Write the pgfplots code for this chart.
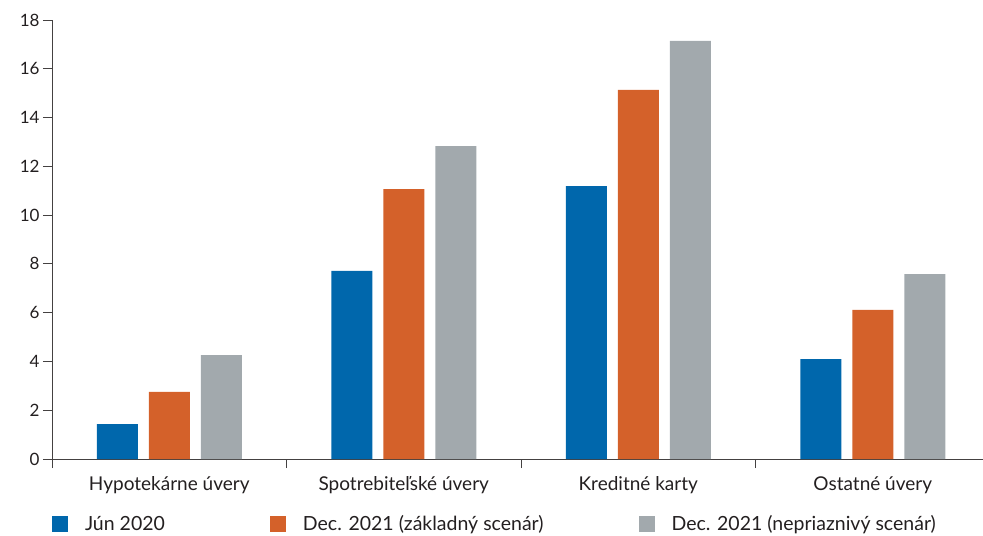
\documentclass[border=0pt]{standalone}
\usepackage{pgfplots}
\pgfplotsset{compat=1.18}
\usepackage{fontspec}
\setmainfont{Lato}
\definecolor{cblue}{HTML}{0067AC}
\definecolor{corange}{HTML}{D4612A}
\definecolor{cgray}{HTML}{A2A9AD}
\definecolor{ctext}{HTML}{231F20}
\begin{document}
\begin{tikzpicture}
\begin{axis}[
  name=ax,
  scale only axis,
  width=931bp, height=439bp,
  xmin=-0.5, xmax=3.47,
  ymin=0, ymax=18,
  ytick={0,2,...,18},
  xtick={-0.5,0.5,1.5,2.5},
  xticklabels={},
  extra x ticks={0,1,2,3},
  extra x tick labels={Hypotekárne úvery,Spotrebiteľské úvery,Kreditné karty,Ostatné úvery},
  extra x tick style={major tick length=0pt,
    xticklabel style={yshift=-14bp, font=\fontsize{19bp}{22bp}\selectfont}},
  axis lines*=left,
  axis line style={draw=ctext!85, line width=0.9bp},
  tick style={draw=ctext!85, line width=0.9bp},
  tick align=outside,
  major tick length=9bp,
  font=\fontsize{17bp}{20bp}\selectfont,
  ticklabel style={text=ctext},
  /pgf/number format/assume math mode=true,
  ybar=11bp,
  bar width=41bp,
  legend columns=3,
  legend style={
    at={(0,0)}, anchor=west, yshift=-65bp,
    draw=none, fill=none, inner sep=0pt, outer sep=0pt,
    font=\fontsize{19.5bp}{22bp}\selectfont, text=ctext,
    nodes={inner sep=0pt},
    /tikz/every odd column/.append style={column sep=17bp},
    /tikz/column 2/.append style={column sep=105bp},
    /tikz/column 4/.append style={column sep=95bp},
  },
  legend image code/.code={\fill[#1] (0bp,-8bp) rectangle (16bp,8bp);},
]
\addplot[fill=cblue, draw=none] coordinates {(0,1.43) (1,7.71) (2,11.19) (3,4.1)};
\addplot[fill=corange, draw=none] coordinates {(0,2.75) (1,11.07) (2,15.13) (3,6.11)};
\addplot[fill=cgray, draw=none] coordinates {(0,4.26) (1,12.83) (2,17.14) (3,7.58)};
\legend{Jún 2020, Dec. 2021 (základný scenár), Dec. 2021 (nepriaznivý scenár)}
\end{axis}
\pgfresetboundingbox
\path[use as bounding box] ([xshift=-52bp,yshift=20bp]ax.north west) rectangle ([yshift=-77bp]ax.south east);
\end{tikzpicture}
\end{document}
